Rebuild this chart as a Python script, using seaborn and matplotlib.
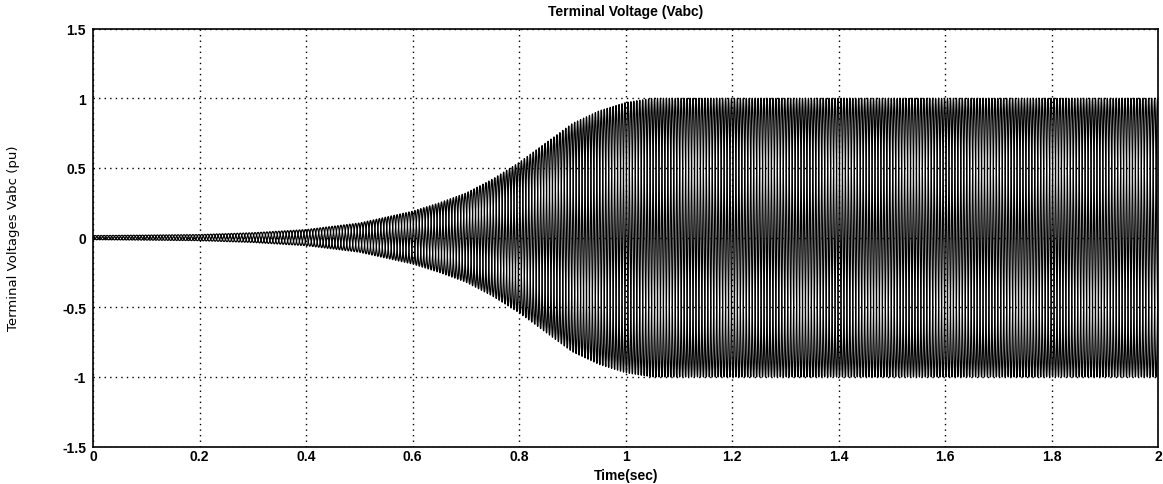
import numpy as np
import pandas as pd
import matplotlib
matplotlib.use("Agg")
import matplotlib.pyplot as plt
import seaborn as sns

# Envelope of the terminal voltage (pu)
env_t = [0.0, 0.1, 0.2, 0.3, 0.4, 0.5, 0.6, 0.65, 0.7, 0.75, 0.8, 0.85, 0.9, 0.95, 1.0, 1.05, 1.1, 2.0]
env_a = [0.015, 0.018, 0.022, 0.035, 0.058, 0.105, 0.19, 0.25, 0.32, 0.42, 0.54, 0.68, 0.82, 0.91, 0.97, 1.0, 1.0, 1.0]
freq_hz = 60
phases = ["Va", "Vb", "Vc"]
phase_shift_deg = [0, -120, 120]

x_ticks = [0, 0.2, 0.4, 0.6, 0.8, 1.0, 1.2, 1.4, 1.6, 1.8, 2.0]
x_ticklabels = ["0", "0.2", "0.4", "0.6", "0.8", "1", "1.2", "1.4", "1.6", "1.8", "2"]
y_ticks = [-1.5, -1, -0.5, 0, 0.5, 1, 1.5]
y_ticklabels = ["-1.5", "-1", "-0.5", "0", "0.5", "1", "1.5"]

title = "Terminal Voltage (Vabc)"
xlabel = "Time(sec)"
ylabel = "Terminal Voltages Vabc (pu)"

# Build the three-phase waveform
t = np.linspace(0, 2, 12001)
amp = np.interp(t, env_t, env_a)
frames = []
for name, sh in zip(phases, phase_shift_deg):
    v = amp * np.sin(2 * np.pi * freq_hz * t + np.deg2rad(sh))
    frames.append(pd.DataFrame({"t": t, "v": v, "phase": name}))
df = pd.concat(frames, ignore_index=True)

sns.set_style("white")
plt.rcParams["font.family"] = ["Liberation Sans", "DejaVu Sans"]
plt.rcParams["text.color"] = "black"
plt.rcParams["axes.labelcolor"] = "black"

fig = plt.figure(figsize=(11.63, 4.85), dpi=100)
ax = fig.add_axes([0.080, 0.077, 0.916, 0.862])

sns.lineplot(data=df, x="t", y="v", hue="phase", palette=["black"] * 3,
             estimator=None, sort=False, linewidth=0.9, legend=False, ax=ax)

ax.set_xlim(0, 2)
ax.set_ylim(-1.5, 1.5)
ax.set_xticks(x_ticks)
ax.set_xticklabels(x_ticklabels, fontsize=10, fontweight="bold")
ax.set_yticks(y_ticks)
ax.set_yticklabels(y_ticklabels, fontsize=10, fontweight="bold")
ax.tick_params(axis="y", direction="in", length=4, width=1, pad=5, colors="black")
ax.tick_params(axis="x", direction="in", length=4, width=1, pad=2, colors="black")
ax.grid(True, linestyle=(0, (1, 3)), color="black", linewidth=1.0)
for s in ax.spines.values():
    s.set_color("black")
    s.set_linewidth(1.2)

ax.set_title(title, fontsize=10, fontweight="bold", pad=10, color="black")
ax.set_xlabel(xlabel, fontsize=10, fontweight="bold", labelpad=3, color="black")
ax.set_ylabel(ylabel, fontsize=9.5, family=["Liberation Sans Narrow", "DejaVu Sans"],
              labelpad=30, color="black")

fig.savefig("out.png", dpi=100, facecolor="white")
